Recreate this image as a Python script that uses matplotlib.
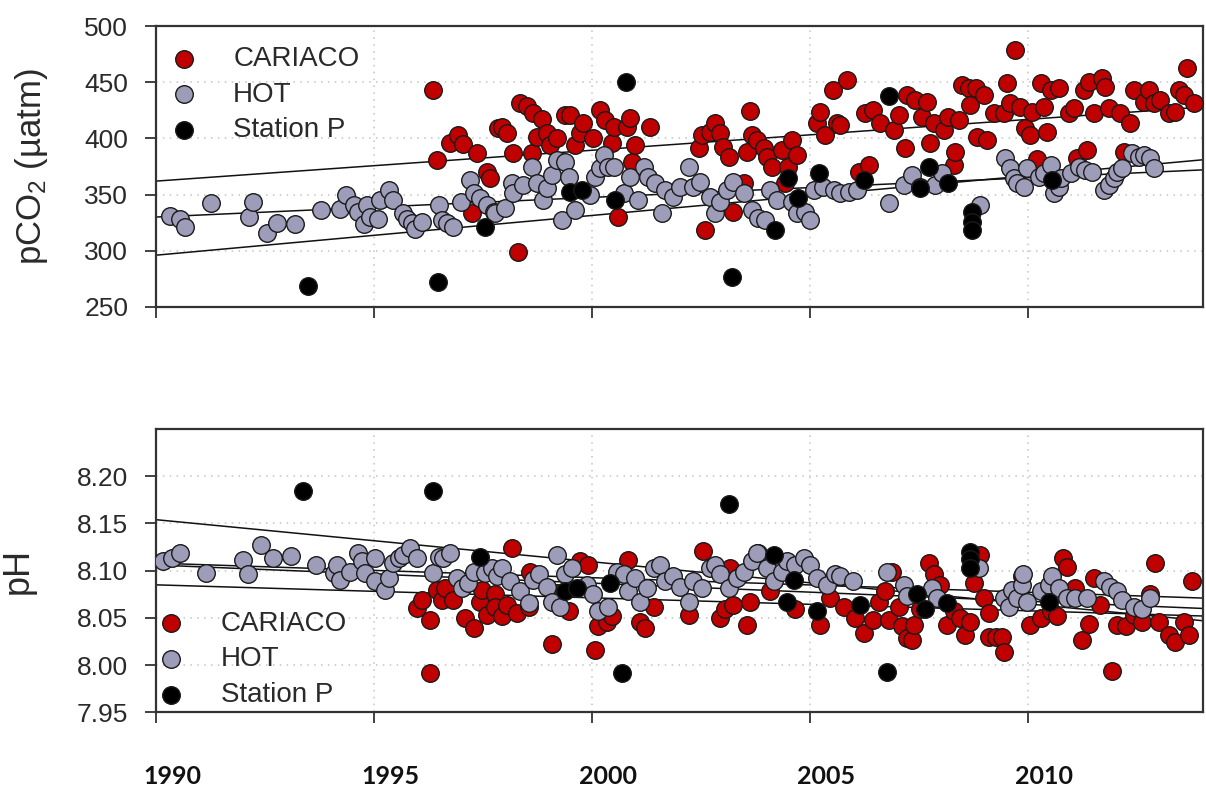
import matplotlib
matplotlib.use("Agg")
import matplotlib.pyplot as plt
from matplotlib.transforms import blended_transform_factory, ScaledTranslation

plt.rcParams['font.family'] = ['Liberation Sans', 'DejaVu Sans']
plt.rcParams['mathtext.fontset'] = 'custom'
plt.rcParams['mathtext.rm'] = 'Liberation Sans'
plt.rcParams['mathtext.it'] = 'Liberation Sans:italic'

# ---------------- data: pCO2 panel ----------------
pco2_cariaco_year = [1996.36, 1996.44, 1996.74, 1996.93, 1997.03, 1997.24, 1997.37, 1997.58, 1997.66, 1997.85,
                     1997.93, 1998.04, 1998.19, 1998.29, 1998.35, 1998.50, 1998.61, 1998.65, 1998.73, 1998.84,
                     1998.96, 1999.04, 1999.19, 1999.38, 1999.49, 1999.61, 1999.72, 1999.80, 2000.03, 2000.18,
                     2000.30, 2000.45, 2000.49, 2000.60, 2000.79, 2000.86, 2000.91, 2000.99, 2001.33, 2002.44,
                     2002.51, 2002.59, 2002.71, 2002.82, 2002.93, 2003.01, 2003.13, 2003.24, 2003.47, 2003.55,
                     2003.61, 2003.66, 2003.78, 2003.93, 2004.01, 2004.12, 2004.35, 2004.43, 2004.50, 2004.58,
                     2004.69, 2005.15, 2005.23, 2005.34, 2005.52, 2005.61, 2005.69, 2005.84, 2006.11, 2006.26,
                     2006.34, 2006.45, 2006.61, 2006.91, 2007.03, 2007.18, 2007.22, 2007.41, 2007.56, 2007.68,
                     2007.75, 2007.83, 2008.06, 2008.17, 2008.29, 2008.33, 2008.40, 2008.48, 2008.63, 2008.67,
                     2008.79, 2008.82, 2008.98, 2009.05, 2009.21, 2009.44, 2009.51, 2009.59, 2009.69, 2009.82,
                     2009.93, 2010.05, 2010.09, 2010.20, 2010.28, 2010.35, 2010.43, 2010.51, 2010.70, 2010.93,
                     2011.04, 2011.12, 2011.27, 2011.35, 2011.39, 2011.50, 2011.69, 2011.77, 2011.84, 2012.11,
                     2012.19, 2012.34, 2012.42, 2012.65, 2012.76, 2012.88, 2013.03, 2013.22, 2013.37, 2013.45,
                     2013.57, 2013.63, 2013.79]
pco2_cariaco_val = [443.1, 380.8, 395.6, 403.0, 395.0, 333.2, 386.7, 370.4, 365.0, 409.0,
                    410.5, 404.5, 386.7, 299.1, 431.9, 428.9, 386.7, 422.4, 401.6, 417.0,
                    404.5, 394.1, 400.0, 421.2, 421.2, 394.1, 404.5, 413.4, 400.0, 425.3,
                    416.4, 395.6, 410.5, 330.3, 410.5, 417.9, 379.3, 394.1, 410.5, 391.2,
                    403.0, 318.4, 406.0, 413.4, 404.5, 392.6, 383.7, 334.7, 360.0, 388.2,
                    424.7, 403.0, 398.6, 391.2, 383.7, 374.8, 389.7, 360.0, 374.8, 398.6,
                    385.2, 413.4, 423.8, 403.0, 443.1, 413.4, 411.9, 452.0, 370.4, 422.4,
                    376.3, 425.3, 413.4, 407.5, 420.9, 391.2, 438.7, 434.2, 419.4, 432.7,
                    395.6, 413.4, 407.5, 419.4, 376.3, 388.2, 416.4, 447.6, 444.6, 429.8,
                    444.6, 401.6, 438.7, 398.6, 422.4, 422.4, 449.1, 431.3, 478.8, 428.3,
                    409.0, 403.0, 423.8, 381.9, 449.1, 428.3, 406.0, 443.1, 444.6, 422.4,
                    426.8, 382.2, 443.1, 389.7, 450.6, 422.4, 453.5, 446.1, 426.8, 422.4,
                    388.2, 413.4, 443.1, 432.7, 443.1, 431.3, 434.2, 422.4, 423.8, 443.1,
                    438.7, 462.4, 431.3]

pco2_hot_year = [1990.31, 1990.54, 1990.67, 1991.26, 1992.12, 1992.22, 1992.54, 1992.77, 1993.19, 1993.78,
                 1994.22, 1994.35, 1994.53, 1994.64, 1994.76, 1994.83, 1994.91, 1995.10, 1995.14, 1995.33,
                 1995.44, 1995.67, 1995.75, 1995.86, 1995.94, 1996.09, 1996.48, 1996.55, 1996.67, 1996.82,
                 1996.99, 1997.20, 1997.28, 1997.43, 1997.58, 1997.74, 1997.77, 1998.00, 1998.16, 1998.19,
                 1998.42, 1998.61, 1998.73, 1998.88, 1998.96, 1999.07, 1999.19, 1999.30, 1999.38, 1999.46,
                 1999.61, 1999.95, 2000.07, 2000.18, 2000.26, 2000.37, 2000.49, 2000.72, 2000.87, 2001.06,
                 2001.18, 2001.29, 2001.44, 2001.60, 2001.67, 2001.86, 2002.02, 2002.21, 2002.32, 2002.48,
                 2002.71, 2002.82, 2002.93, 2003.09, 2003.24, 2003.47, 2003.66, 2003.81, 2003.97, 2004.08,
                 2004.23, 2004.58, 2004.69, 2004.88, 2004.99, 2005.08, 2005.30, 2005.54, 2005.69, 2005.88,
                 2006.07, 2006.80, 2007.14, 2007.33, 2007.52, 2007.87, 2008.02, 2008.90, 2009.47, 2009.59,
                 2009.67, 2009.74, 2009.90, 2009.97, 2010.24, 2010.35, 2010.51, 2010.58, 2010.70, 2010.74,
                 2010.97, 2011.16, 2011.31, 2011.46, 2011.73, 2011.84, 2011.96, 2012.04, 2012.15, 2012.38,
                 2012.53, 2012.65, 2012.80, 2012.88]
pco2_hot_val = [330.9, 327.9, 320.8, 342.2, 330.3, 343.7, 315.5, 324.4, 323.8, 336.1,
                336.8, 349.6, 340.6, 334.7, 323.8, 340.6, 330.3, 327.9, 345.1, 354.1,
                345.1, 333.2, 327.9, 324.4, 319.0, 325.8, 340.6, 327.3, 324.4, 321.5,
                343.7, 363.0, 351.1, 346.6, 340.6, 334.7, 333.2, 337.6, 360.0, 351.1,
                358.5, 374.8, 360.0, 345.1, 355.5, 367.4, 380.8, 327.3, 379.3, 365.9,
                336.1, 349.6, 365.9, 373.4, 385.2, 374.8, 374.8, 351.1, 365.9, 345.1,
                374.8, 365.9, 360.0, 333.2, 354.1, 348.1, 357.0, 374.8, 357.0, 361.5,
                348.1, 333.2, 343.7, 354.1, 361.5, 351.1, 336.1, 328.8, 327.3, 354.1,
                345.1, 343.7, 333.2, 334.7, 327.3, 354.1, 357.0, 354.1, 351.1, 352.5,
                354.1, 342.8, 358.5, 367.4, 357.0, 358.5, 368.9, 340.6, 382.2, 373.4,
                364.4, 360.0, 357.0, 373.4, 365.9, 368.9, 376.3, 351.1, 357.0, 364.4,
                368.9, 374.8, 371.9, 370.4, 354.1, 358.5, 364.4, 370.4, 373.4, 386.7,
                383.7, 385.2, 382.2, 373.4]

pco2_stp_year = [1993.48, 1996.46, 1997.55, 1999.49, 1999.76, 2000.53, 2000.77, 2003.20, 2004.20, 2004.50,
                 2004.73, 2005.19, 2006.23, 2006.80, 2007.52, 2007.72, 2008.17, 2008.71, 2008.71, 2008.71,
                 2010.55]
pco2_stp_val = [268.8, 272.4, 321.5, 352.5, 354.1, 345.1, 450.0, 276.2, 318.4, 364.4,
                346.6, 368.9, 362.9, 437.8, 355.5, 374.8, 360.0, 334.7, 325.8, 318.4,
                362.9]

# trend lines (value at 1990, value at 2014)
trend_years = [1990, 2014]
pco2_trend_cariaco = [362, 428]
pco2_trend_hot = [330, 372]
pco2_trend_stp = [296, 381]

# ---------------- data: pH panel ----------------
ph_cariaco_year = [1995.99, 1996.09, 1996.27, 1996.28, 1996.44, 1996.55, 1996.63, 1996.82, 1997.09, 1997.28,
                   1997.43, 1997.47, 1997.58, 1997.77, 1997.78, 1997.93, 1998.04, 1998.17, 1998.27, 1998.54,
                   1998.58, 1999.07, 1999.19, 1999.46, 1999.72, 1999.91, 2000.07, 2000.14, 2000.34, 2000.45,
                   2000.83, 2001.10, 2001.21, 2001.41, 2002.21, 2002.54, 2002.93, 2003.05, 2003.16, 2003.24,
                   2003.55, 2003.62, 2003.81, 2004.08, 2004.65, 2005.23, 2005.46, 2005.77, 2006.03, 2006.23,
                   2006.45, 2006.57, 2006.72, 2006.80, 2006.87, 2007.03, 2007.10, 2007.22, 2007.33, 2007.37,
                   2007.52, 2007.72, 2007.83, 2007.98, 2008.14, 2008.29, 2008.44, 2008.56, 2008.67, 2008.75,
                   2008.90, 2008.98, 2009.09, 2009.09, 2009.25, 2009.40, 2009.44, 2009.86, 2010.05, 2010.28,
                   2010.51, 2010.66, 2010.80, 2010.89, 2011.08, 2011.23, 2011.39, 2011.50, 2011.65, 2011.92,
                   2012.04, 2012.23, 2012.42, 2012.61, 2012.80, 2012.91, 2012.99, 2013.22, 2013.37, 2013.57,
                   2013.68, 2013.76]
ph_cariaco_val = [8.060, 8.069, 7.992, 8.048, 8.080, 8.069, 8.082, 8.069, 8.050, 8.039,
                  8.067, 8.080, 8.053, 8.075, 8.062, 8.052, 8.064, 8.124, 8.055, 8.062,
                  8.099, 8.022, 8.076, 8.057, 8.110, 8.106, 8.016, 8.041, 8.046, 8.052,
                  8.111, 8.046, 8.039, 8.062, 8.053, 8.121, 8.050, 8.059, 8.103, 8.064,
                  8.043, 8.067, 8.119, 8.078, 8.059, 8.043, 8.071, 8.062, 8.050, 8.034,
                  8.048, 8.067, 8.078, 8.048, 8.099, 8.062, 8.041, 8.029, 8.027, 8.043,
                  8.059, 8.108, 8.096, 8.085, 8.043, 8.057, 8.050, 8.032, 8.046, 8.087,
                  8.117, 8.071, 8.055, 8.030, 8.030, 8.030, 8.014, 8.094, 8.043, 8.050,
                  8.057, 8.052, 8.113, 8.104, 8.082, 8.027, 8.044, 8.092, 8.064, 7.994,
                  8.043, 8.041, 8.053, 8.046, 8.075, 8.108, 8.046, 8.032, 8.025, 8.046,
                  8.032, 8.089]

ph_hot_year = [1990.15, 1990.36, 1990.54, 1991.14, 1991.99, 1992.10, 1992.41, 1992.67, 1993.10, 1993.67,
               1994.07, 1994.14, 1994.22, 1994.45, 1994.64, 1994.72, 1994.79, 1995.02, 1995.02, 1995.25,
               1995.33, 1995.44, 1995.56, 1995.67, 1995.83, 1995.98, 1996.36, 1996.48, 1996.59, 1996.73,
               1996.90, 1997.01, 1997.16, 1997.28, 1997.55, 1997.70, 1997.81, 1997.93, 1998.12, 1998.35,
               1998.54, 1998.65, 1998.77, 1998.96, 1999.07, 1999.19, 1999.26, 1999.38, 1999.53, 1999.88,
               2000.03, 2000.14, 2000.37, 2000.56, 2000.72, 2000.83, 2000.99, 2001.10, 2001.25, 2001.41,
               2001.56, 2001.67, 2001.86, 2002.02, 2002.21, 2002.32, 2002.51, 2002.71, 2002.82, 2002.93,
               2003.13, 2003.32, 2003.47, 2003.66, 2003.78, 2004.01, 2004.16, 2004.35, 2004.46, 2004.65,
               2004.85, 2004.99, 2005.15, 2005.38, 2005.57, 2005.69, 2005.99, 2006.76, 2007.14, 2007.22,
               2007.79, 2007.91, 2008.86, 2009.44, 2009.55, 2009.63, 2009.74, 2009.86, 2009.89, 2009.97,
               2010.28, 2010.47, 2010.55, 2010.70, 2010.89, 2011.08, 2011.35, 2011.73, 2011.88, 2012.04,
               2012.15, 2012.42, 2012.61, 2012.80]
ph_hot_val = [8.110, 8.113, 8.119, 8.098, 8.111, 8.096, 8.127, 8.113, 8.116, 8.106,
              8.098, 8.106, 8.090, 8.099, 8.119, 8.110, 8.098, 8.113, 8.089, 8.080,
              8.092, 8.108, 8.113, 8.117, 8.124, 8.113, 8.098, 8.115, 8.113, 8.119,
              8.092, 8.082, 8.087, 8.099, 8.098, 8.103, 8.094, 8.103, 8.089, 8.078,
              8.066, 8.090, 8.096, 8.083, 8.067, 8.117, 8.062, 8.096, 8.103, 8.085,
              8.075, 8.057, 8.062, 8.099, 8.096, 8.078, 8.092, 8.067, 8.082, 8.103,
              8.106, 8.089, 8.094, 8.083, 8.067, 8.089, 8.082, 8.103, 8.106, 8.096,
              8.082, 8.092, 8.099, 8.110, 8.119, 8.103, 8.089, 8.099, 8.110, 8.106,
              8.113, 8.106, 8.092, 8.085, 8.096, 8.094, 8.089, 8.099, 8.085, 8.073,
              8.082, 8.071, 8.103, 8.071, 8.062, 8.080, 8.071, 8.085, 8.097, 8.067,
              8.078, 8.085, 8.094, 8.082, 8.071, 8.071, 8.071, 8.089, 8.083, 8.078,
              8.069, 8.062, 8.059, 8.071]

ph_stp_year = [1993.36, 1996.36, 1997.42, 1999.38, 1999.65, 2000.41, 2000.68, 2003.13, 2004.16, 2004.47,
               2004.62, 2005.15, 2006.15, 2006.76, 2007.45, 2007.64, 2008.14, 2008.67, 2008.67, 2008.67,
               2010.47]
ph_stp_val = [8.184, 8.184, 8.115, 8.078, 8.082, 8.087, 7.992, 8.171, 8.117, 8.067,
              8.090, 8.057, 8.064, 7.993, 8.075, 8.059, 8.066, 8.120, 8.112, 8.103,
              8.067]

ph_trend_stp = [8.154, 8.047]
ph_trend_hot = [8.108, 8.071]
ph_trend_hot2 = [8.106, 8.060]
ph_trend_cariaco = [8.085, 8.052]

series_labels = ['CARIACO', 'HOT', 'Station P']
series_colors = ['#C00000', '#9D9DB9', '#000000']
year_ticks = [1990, 1995, 2000, 2005, 2010]

# ---------------- figure ----------------
fig = plt.figure(figsize=(12.06, 7.92), dpi=100)
ax1 = fig.add_axes([0.1294, 0.6126, 0.8679, 0.3543])
ax2 = fig.add_axes([0.1294, 0.1006, 0.8679, 0.3577])

S = 160
EC = '#1a1a1a'
LW = 1.0

def style(ax):
    for sp in ax.spines.values():
        sp.set_color('#333333')
        sp.set_linewidth(1.6)
    ax.grid(True, color='#c4c4c4', linestyle=(0, (1, 3.5)), linewidth=1.1)
    ax.set_axisbelow(True)
    ax.tick_params(axis='both', direction='out', length=8, width=1.3, color='#333333',
                   labelsize=19, labelcolor='#2a2a2a', pad=12)
    ax.tick_params(axis='x', labelbottom=False)
    ax.set_xlim(1990, 2014)
    ax.set_xticks(year_ticks)

# top panel
style(ax1)
ax1.set_ylim(250, 500)
ax1.set_yticks([250, 300, 350, 400, 450, 500])
ax1.plot(trend_years, pco2_trend_cariaco, color='#111111', lw=1.1, zorder=2)
ax1.plot(trend_years, pco2_trend_hot, color='#111111', lw=1.1, zorder=2)
ax1.plot(trend_years, pco2_trend_stp, color='#111111', lw=1.1, zorder=2)
h1 = ax1.scatter(pco2_cariaco_year, pco2_cariaco_val, s=S, c=series_colors[0], edgecolors=EC, linewidths=LW, zorder=3)
h2 = ax1.scatter(pco2_hot_year, pco2_hot_val, s=S, c=series_colors[1], edgecolors=EC, linewidths=LW, zorder=4)
h3 = ax1.scatter(pco2_stp_year, pco2_stp_val, s=S, c=series_colors[2], edgecolors=EC, linewidths=LW, zorder=5)
ax1.set_ylabel('pCO$_2$ (µatm)', fontsize=25, color='#2a2a2a')
ax1.yaxis.set_label_coords(-0.101, 0.5)
leg1 = ax1.legend([h1, h2, h3], series_labels, loc='upper left', bbox_to_anchor=(0.0134, 0.93),
                  frameon=False, fontsize=20, handlelength=1.0, handletextpad=1.27,
                  labelspacing=0.35, borderpad=0, borderaxespad=0)
for t in leg1.get_texts():
    t.set_color('#2a2a2a')

# bottom panel
style(ax2)
ax2.set_ylim(7.95, 8.25)
ax2.set_yticks([7.95, 8.00, 8.05, 8.10, 8.15, 8.20])
ax2.set_yticklabels(['%.2f' % v for v in [7.95, 8.00, 8.05, 8.10, 8.15, 8.20]])
ax2.plot(trend_years, ph_trend_stp, color='#111111', lw=1.1, zorder=2)
ax2.plot(trend_years, ph_trend_hot, color='#111111', lw=1.1, zorder=2)
ax2.plot(trend_years, ph_trend_hot2, color='#111111', lw=1.1, zorder=2)
ax2.plot(trend_years, ph_trend_cariaco, color='#111111', lw=1.1, zorder=2)
g1 = ax2.scatter(ph_cariaco_year, ph_cariaco_val, s=S, c=series_colors[0], edgecolors=EC, linewidths=LW, zorder=3)
g2 = ax2.scatter(ph_hot_year, ph_hot_val, s=S, c=series_colors[1], edgecolors=EC, linewidths=LW, zorder=4)
g3 = ax2.scatter(ph_stp_year, ph_stp_val, s=S, c=series_colors[2], edgecolors=EC, linewidths=LW, zorder=5)
ax2.set_ylabel('pH', fontsize=26, color='#2a2a2a')
ax2.yaxis.set_label_coords(-0.1147, 0.5)
leg2 = ax2.legend([g1, g2, g3], series_labels, loc='lower left', bbox_to_anchor=(0.001, 0.015),
                  frameon=False, fontsize=20, handlelength=1.0, handletextpad=1.30,
                  labelspacing=0.35, borderpad=0, borderaxespad=0)
for t in leg2.get_texts():
    t.set_color('#2a2a2a')

# bold year labels below the bottom panel (offset to the right of the ticks)
trans = blended_transform_factory(ax2.transData, ax2.transAxes) + ScaledTranslation(0.16, 0, fig.dpi_scale_trans)
for yr in year_ticks:
    ax2.text(yr, -0.225, str(yr), transform=trans, ha='center', va='center',
             fontsize=18, fontweight='bold', family=['Lato', 'DejaVu Sans'], color='#111111')

fig.savefig('out.png', dpi=100)
